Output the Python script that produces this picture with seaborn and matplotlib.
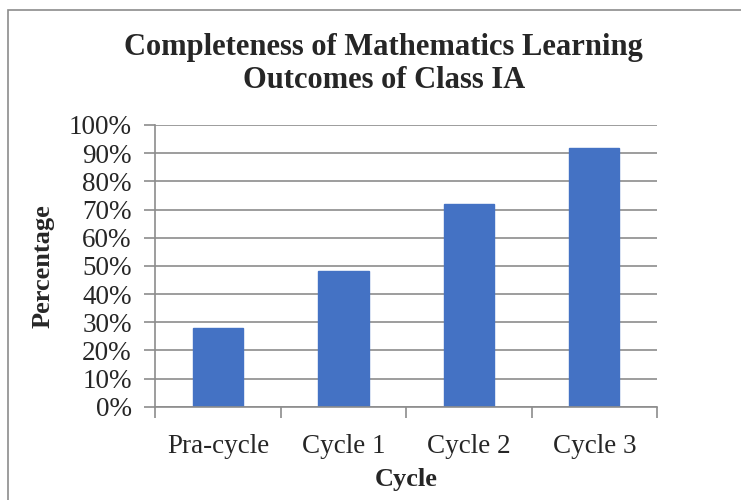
import matplotlib
matplotlib.use("Agg")
import matplotlib.pyplot as plt
import seaborn as sns
from matplotlib.ticker import PercentFormatter, FixedLocator, MultipleLocator
from matplotlib.patches import Rectangle

# chart data
cycles = ["Pra-cycle", "Cycle 1", "Cycle 2", "Cycle 3"]
completeness = [0.28, 0.48, 0.72, 0.92]

title_text = "Completeness of Mathematics Learning\nOutcomes of Class IA"
x_title = "Cycle"
y_title = "Percentage"

sns.set_theme(style="white")
plt.rcParams["font.family"] = ["Liberation Serif", "DejaVu Serif"]

grey = "#8c8c8c"
fig = plt.figure(figsize=(7.41, 5.0), dpi=100)
ax = fig.add_axes([0.2096, 0.1866, 0.677, 0.5634])

sns.barplot(x=cycles, y=completeness, color="#4472C4", saturation=1,
            width=0.4, ax=ax, edgecolor="#4472C4")

ax.set_ylim(0, 1.0)
ax.set_xlim(-0.5, len(cycles) - 0.5)
ax.yaxis.set_major_locator(MultipleLocator(0.1))
ax.yaxis.set_major_formatter(PercentFormatter(1.0, decimals=0))
ax.grid(axis="y", color=grey, linewidth=1.2)
ax.set_axisbelow(True)

for side in ["top", "right"]:
    ax.spines[side].set_visible(False)
for side in ["left", "bottom"]:
    ax.spines[side].set_color(grey)
    ax.spines[side].set_linewidth(1.2)

# category boundary ticks like excel
ax.xaxis.set_minor_locator(FixedLocator([i - 0.5 for i in range(len(cycles) + 1)]))
ax.tick_params(axis="x", which="major", length=0, pad=20, labelsize=19.5)
ax.tick_params(axis="x", which="minor", length=8, width=1.2, color=grey, direction="out", bottom=True)
ax.tick_params(axis="y", length=8, width=1.2, color=grey, direction="out", left=True,
               pad=9, labelsize=19.5)

ax.set_xlabel(x_title, fontsize=19, fontweight="bold", labelpad=6)
ax.set_ylabel(y_title, fontsize=19, fontweight="bold", labelpad=10)
fig.text(0.518, 0.872, title_text, ha="center", va="center", fontsize=22,
         fontweight="bold", linespacing=1.2)

# outer chart border (only top/left visible in the crop)
fig.patches.append(Rectangle((0.011, -0.1), 1.2, 1.08, transform=fig.transFigure,
                             fill=False, edgecolor=grey, linewidth=1.2))

fig.savefig("out.png", dpi=100)
